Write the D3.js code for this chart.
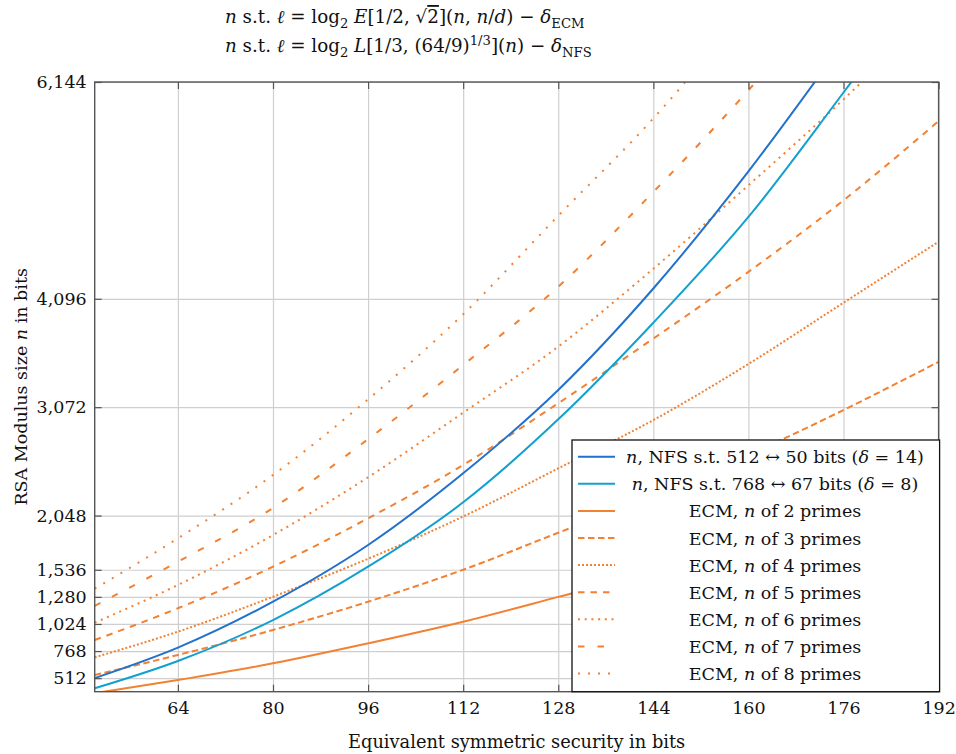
<!DOCTYPE html>
<html>
<head>
<meta charset="utf-8">
<script src="https://cdn.jsdelivr.net/npm/d3@7"></script>
<style>
    body { margin: 0; background: #fff; }
    text { font-family: "DejaVu Serif", serif; fill: #111; }
</style>
</head>
<body>
<script>
/** Chart data **/
var bits = [50, 64, 80, 96, 112, 128, 144, 160, 176, 192];

var nfs512 = [512, 800, 1234, 1770, 2447, 3234, 4193, 5300, 6520, null];
var nfs768 = [416, 674, 1061, 1565, 2173, 2957, 3870, 4869, 6045, 7250];
var ecm2   = [370, 494, 652, 841, 1045, 1280, 1520, 1790, 2080, 2400];
var ecm3   = [542, 731, 967, 1234, 1536, 1886, 2235, 2620, 3045, 3500];
var ecm4   = [709, 951, 1281, 1640, 2039, 2494, 2950, 3480, 4059, 4635];
var ecm5   = [872, 1172, 1565, 2022, 2526, 3109, 3720, 4350, 5026, 5775];
var ecm6   = [1036, 1392, 1864, 2410, 3020, 3644, 4380, 5168, 5980, 6860];
var ecm7   = [1194, 1612, 2120, 2770, 3470, 4210, 5105, 6066, 7110, null];
var ecm8   = [1357, 1833, 2431, 3146, 3950, 4880, 5800, 6860, null, null];

var xTicks = [64, 80, 96, 112, 128, 144, 160, 176, 192];
var yTicks = [512, 768, 1024, 1280, 1536, 2048, 3072, 4096, 6144];

var seriesNames = [
    [["n", "i"], [", NFS s.t. 512 ↔ 50 bits (", ""], ["δ", "i"], [" = 14)", ""]],
    [["n", "i"], [", NFS s.t. 768 ↔ 67 bits (", ""], ["δ", "i"], [" = 8)", ""]],
    [["ECM, ", ""], ["n", "i"], [" of 2 primes", ""]],
    [["ECM, ", ""], ["n", "i"], [" of 3 primes", ""]],
    [["ECM, ", ""], ["n", "i"], [" of 4 primes", ""]],
    [["ECM, ", ""], ["n", "i"], [" of 5 primes", ""]],
    [["ECM, ", ""], ["n", "i"], [" of 6 primes", ""]],
    [["ECM, ", ""], ["n", "i"], [" of 7 primes", ""]],
    [["ECM, ", ""], ["n", "i"], [" of 8 primes", ""]]
];


/**
 * Writes a run of styled parts into a text element.
 * Styles: "i" italic, "sub" subscript, "sup" superscript, "over" overline.
 */
function richText(sel, parts, size)
{
    var shift = 0;
    parts.forEach(function(p) {
        var target = 0;
        var fs = size;
        if (p[1] == "sub") { target = size * 0.3; fs = size * 0.72; }
        if (p[1] == "sup") { target = -size * 0.4; fs = size * 0.72; }

        var t = sel.append("tspan")
            .attr("dy", target - shift)
            .style("font-size", fs + "px")
            .text(p[0]);

        if (p[1] == "i") t.style("font-style", "italic");
        if (p[1] == "over") t.style("text-decoration", "overline");
        shift = target;
    });
}


function drawChart()
{
    var width = 956, height = 754;
    var left = 94.7, top = 82;
    var chart_width = 843.9, chart_height = 609.7;

    var col_nfs512 = "#2271cc";
    var col_nfs768 = "#14a0cf";
    var col_ecm    = "#f28132";
    var fontSize   = 17.5;
    var titleSize  = 18.3;

    var svg = d3.select("body").append("svg")
        .attr("width", width)
        .attr("height", height);

    var xScale = d3.scaleLinear().domain([50, 192]).range([0, chart_width]);
    var yScale = d3.scaleLinear().domain([384, 6144]).range([chart_height, 0]);

    var g = svg.append("g").attr("transform", "translate(" + left + "," + top + ")");

    // Grid lines.
    g.append("g")
        .attr("transform", "translate(0," + chart_height + ")")
        .call(d3.axisBottom(xScale).tickValues(xTicks).tickSize(-chart_height).tickFormat(""))
        .call(function(a) {
            a.select(".domain").remove();
            a.selectAll("line").attr("stroke", "#cfcfcf").attr("stroke-width", 1.2);
        });

    g.append("g")
        .call(d3.axisLeft(yScale).tickValues(yTicks).tickSize(-chart_width).tickFormat(""))
        .call(function(a) {
            a.select(".domain").remove();
            a.selectAll("line").attr("stroke", "#cfcfcf").attr("stroke-width", 1.2);
        });

    // Curves, clipped to the plot area.
    g.append("clipPath").attr("id", "plotClip")
        .append("rect").attr("width", chart_width).attr("height", chart_height);

    var series = [
        { vals: nfs512, color: col_nfs512, dash: null },
        { vals: nfs768, color: col_nfs768, dash: null },
        { vals: ecm2,   color: col_ecm,    dash: null },
        { vals: ecm3,   color: col_ecm,    dash: "6.5,3.5" },
        { vals: ecm4,   color: col_ecm,    dash: "2,2" },
        { vals: ecm5,   color: col_ecm,    dash: "6.5,6" },
        { vals: ecm6,   color: col_ecm,    dash: "2,4.7" },
        { vals: ecm7,   color: col_ecm,    dash: "6.5,13" },
        { vals: ecm8,   color: col_ecm,    dash: "2,8" }
    ];

    var line = d3.line()
        .defined(function(d) { return d[1] != null; })
        .x(function(d) { return xScale(d[0]); })
        .y(function(d) { return yScale(d[1]); })
        .curve(d3.curveMonotoneX);

    var curves = g.append("g").attr("clip-path", "url(#plotClip)");

    // ECM first, NFS lines on top.
    var drawOrder = [2, 3, 4, 5, 6, 7, 8, 0, 1];
    drawOrder.forEach(function(i) {
        var s = series[i];
        curves.append("path")
            .datum(bits.map(function(b, k) { return [b, s.vals[k]]; }))
            .attr("d", line)
            .attr("fill", "none")
            .attr("stroke", s.color)
            .attr("stroke-width", 2)
            .attr("stroke-dasharray", s.dash);
    });

    // Axes: inward ticks on all four sides.
    function styleAxis(a) {
        a.select(".domain").remove();
        a.selectAll(".tick line").attr("stroke", "#555").attr("stroke-width", 1.2);
        a.selectAll("text").style("font-size", fontSize + "px")
            .style("font-family", "DejaVu Serif").attr("fill", "#111");
    }

    g.append("g")
        .attr("transform", "translate(0," + chart_height + ")")
        .call(d3.axisBottom(xScale).tickValues(xTicks).tickSizeInner(-7).tickSizeOuter(0).tickPadding(10))
        .call(styleAxis);
    g.append("g")
        .call(d3.axisTop(xScale).tickValues(xTicks).tickSizeInner(-7).tickSizeOuter(0).tickFormat(""))
        .call(styleAxis);
    g.append("g")
        .call(d3.axisLeft(yScale).tickValues(yTicks).tickSizeInner(-7).tickSizeOuter(0).tickPadding(8)
            .tickFormat(d3.format(",")))
        .call(styleAxis);
    g.append("g")
        .attr("transform", "translate(" + chart_width + ",0)")
        .call(d3.axisRight(yScale).tickValues(yTicks).tickSizeInner(-7).tickSizeOuter(0).tickFormat(""))
        .call(styleAxis);

    g.append("rect")
        .attr("width", chart_width).attr("height", chart_height)
        .attr("fill", "none").attr("stroke", "#555").attr("stroke-width", 1.4);

    // Legend box.
    var legX = 572 - left, legY = 440 - top;
    var legW = chart_width - legX + 1, legH = chart_height - legY;
    var leg = g.append("g").attr("transform", "translate(" + legX + "," + legY + ")");

    leg.append("rect")
        .attr("width", legW).attr("height", legH)
        .attr("fill", "#fff").attr("stroke", "#111").attr("stroke-width", 1.3);

    series.forEach(function(s, i) {
        var rowY = 16.7 + i * 27.1;
        leg.append("line")
            .attr("x1", 6).attr("x2", 43)
            .attr("y1", rowY).attr("y2", rowY)
            .attr("stroke", s.color)
            .attr("stroke-width", 2)
            .attr("stroke-dasharray", s.dash);

        var t = leg.append("text")
            .attr("x", 203).attr("y", rowY + 6.5)
            .attr("text-anchor", "middle")
            .style("font-size", fontSize + "px");
        richText(t, seriesNames[i], fontSize);
    });

    // Axis labels.
    svg.append("text")
        .attr("x", left + chart_width / 2).attr("y", 748)
        .attr("text-anchor", "middle")
        .style("font-size", (fontSize + 0.3) + "px")
        .text("Equivalent symmetric security in bits");

    var yl = svg.append("text")
        .attr("transform", "translate(27," + (top + chart_height / 2) + ") rotate(-90)")
        .attr("text-anchor", "middle")
        .style("font-size", fontSize + "px");
    richText(yl, [["RSA Modulus size ", ""], ["n", "i"], [" in bits", ""]], fontSize);

    // Title lines.
    var t1 = svg.append("text").attr("x", 225).attr("y", 23).style("font-size", titleSize + "px");
    richText(t1, [["n", "i"], [" s.t. ", ""], ["ℓ", "i"], [" = log", ""], ["2", "sub"],
        [" ", ""], ["E", "i"], ["[1/2, √", ""], ["2", "over"], ["](", ""], ["n", "i"], [", ", ""],
        ["n", "i"], ["/", ""], ["d", "i"], [") − ", ""], ["δ", "i"], ["ECM", "sub"]], titleSize);

    var t2 = svg.append("text").attr("x", 225).attr("y", 52).style("font-size", titleSize + "px");
    richText(t2, [["n", "i"], [" s.t. ", ""], ["ℓ", "i"], [" = log", ""], ["2", "sub"],
        [" ", ""], ["L", "i"], ["[1/3, (64/9)", ""], ["1/3", "sup"], ["](", ""], ["n", "i"],
        [") − ", ""], ["δ", "i"], ["NFS", "sub"]], titleSize);
}

drawChart();
</script>
</body>
</html>
